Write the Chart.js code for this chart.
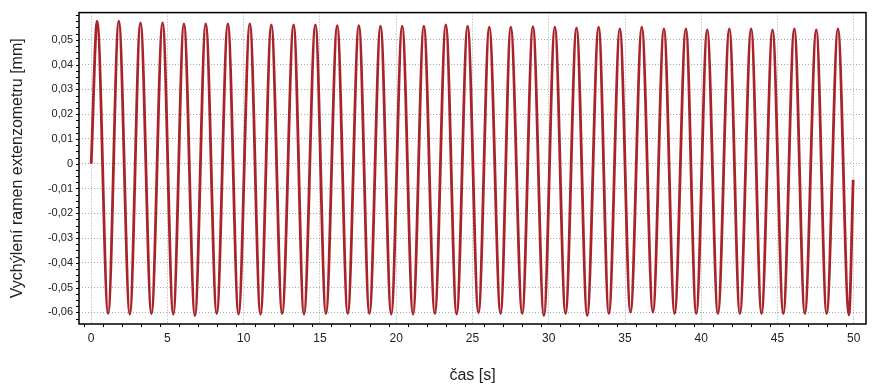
<!DOCTYPE html>
<html>
<head>
<meta charset="utf-8">
<script src="https://cdn.jsdelivr.net/npm/chart.js@4/dist/chart.umd.min.js"></script>
<style>
  html, body { margin: 0; padding: 0; background: #fff; }
  #wrap { width: 878px; height: 392px; }
</style>
</head>
<body>
<div id="wrap"><canvas id="chart" width="878" height="392"></canvas></div>
<script>
// Signal: one peak and one trough per cycle
const startTime = 0, startValue = 0;
const endTime = 49.96, endValue = -0.0065;

const peakTimes = [0.39, 1.81, 3.23, 4.68, 6.08, 7.51, 8.96, 10.40, 11.81, 13.27,
  14.70, 16.13, 17.55, 18.97, 20.39, 21.81, 23.25, 24.68, 26.10, 27.51,
  28.96, 30.40, 31.82, 33.27, 34.66, 36.10, 37.55, 38.99, 40.39, 41.84,
  43.27, 44.67, 46.10, 47.54, 48.96];
const peakValues = [0.0575, 0.0575, 0.0568, 0.0568, 0.0564, 0.0564, 0.0564, 0.0564, 0.0560, 0.0560,
  0.0560, 0.0557, 0.0557, 0.0555, 0.0555, 0.0555, 0.0560, 0.0555, 0.0551, 0.0551,
  0.0553, 0.0551, 0.0548, 0.0551, 0.0544, 0.0551, 0.0544, 0.0544, 0.0540, 0.0544,
  0.0544, 0.0540, 0.0544, 0.0540, 0.0544];

const troughTimes = [1.11, 2.53, 3.95, 5.38, 6.80, 8.23, 9.66, 11.10, 12.52, 13.95,
  15.39, 16.82, 18.24, 19.67, 21.10, 22.53, 23.96, 25.39, 26.84, 28.26,
  29.68, 31.10, 32.52, 33.94, 35.36, 36.83, 38.25, 39.67, 41.09, 42.53,
  43.95, 45.38, 46.79, 48.22, 49.68];
const troughValues = [-0.0605, -0.0607, -0.0605, -0.0607, -0.0613, -0.0605, -0.0607, -0.0607, -0.0605, -0.0607,
  -0.0605, -0.0605, -0.0605, -0.0607, -0.0607, -0.0605, -0.0607, -0.0602, -0.0605, -0.0605,
  -0.0613, -0.0605, -0.0613, -0.0605, -0.0599, -0.0599, -0.0605, -0.0605, -0.0605, -0.0605,
  -0.0605, -0.0605, -0.0605, -0.0605, -0.0610];

// Axis ticks
const xTicks = [0, 5, 10, 15, 20, 25, 30, 35, 40, 45, 50];
const xTickLabels = ['0', '5', '10', '15', '20', '25', '30', '35', '40', '45', '50'];
const yTicks = [-0.06, -0.05, -0.04, -0.03, -0.02, -0.01, 0, 0.01, 0.02, 0.03, 0.04, 0.05];
const yTickLabels = ['-0,06', '-0,05', '-0,04', '-0,03', '-0,02', '-0,01', '0', '0,01', '0,02', '0,03', '0,04', '0,05'];

const points = [{ x: startTime, y: startValue }];
peakTimes.forEach((t, i) => {
  points.push({ x: t, y: peakValues[i] });
  points.push({ x: troughTimes[i], y: troughValues[i] });
});
points.push({ x: endTime, y: endValue });

const FONT = "'Liberation Sans', Arial, sans-serif";

// frame box + small minor tick marks
const framePlugin = {
  id: 'frame',
  afterDraw(chart) {
    const { ctx, chartArea: a, scales } = chart;
    ctx.save();
    ctx.strokeStyle = '#000';
    ctx.lineWidth = 1;
    ctx.beginPath();
    for (let v = -0.5; v <= 50.5; v += 1.25) {
      if (Math.abs(v % 5) < 1e-9) continue;
      const px = Math.round(scales.x.getPixelForValue(v)) + 0.5;
      if (px < a.left || px > a.right) continue;
      ctx.moveTo(px, a.bottom);
      ctx.lineTo(px, a.bottom + 3);
    }
    for (let v = -0.0625; v <= 0.061; v += 0.0025) {
      const py = Math.round(scales.y.getPixelForValue(v)) + 0.5;
      if (py < a.top || py > a.bottom) continue;
      ctx.moveTo(a.left - 3, py);
      ctx.lineTo(a.left, py);
    }
    ctx.stroke();
    ctx.lineWidth = 1.5;
    ctx.strokeRect(a.left, a.top, a.right - a.left, a.bottom - a.top);
    ctx.restore();
  }
};

new Chart(document.getElementById('chart'), {
  type: 'line',
  data: {
    datasets: [{
      data: points,
      borderColor: '#a8232a',
      borderWidth: 2.8,
      pointRadius: 0,
      fill: false,
      cubicInterpolationMode: 'monotone'
    }]
  },
  options: {
    responsive: false,
    animation: false,
    layout: { padding: { left: 0, top: 12, right: 12, bottom: 0 } },
    plugins: { legend: { display: false }, tooltip: { enabled: false } },
    scales: {
      x: {
        type: 'linear',
        min: -0.8,
        max: 50.8,
        afterBuildTicks: s => { s.ticks = xTicks.map(v => ({ value: v })); },
        afterFit: s => { s.height = 68; },
        ticks: {
          autoSkip: false,
          maxRotation: 0,
          padding: 7,
          color: '#222',
          font: { family: FONT, size: 12 },
          callback: (v, i) => xTickLabels[i]
        },
        grid: { color: '#a8a8a8', drawTicks: false },
        border: { display: false, dash: [1, 2] },
        title: {
          display: true,
          text: 'čas [s]',
          color: '#222',
          font: { family: FONT, size: 16 },
          padding: { top: 0, bottom: 7 }
        }
      },
      y: {
        min: -0.0647,
        max: 0.061,
        afterBuildTicks: s => { s.ticks = yTicks.map(v => ({ value: v })); },
        afterFit: s => { s.width = 79; },
        ticks: {
          autoSkip: false,
          padding: 6,
          color: '#222',
          font: { family: FONT, size: 11 },
          callback: (v, i) => yTickLabels[i]
        },
        grid: { color: '#a8a8a8', drawTicks: false },
        border: { display: false, dash: [1, 2] },
        title: {
          display: true,
          text: 'Vychýlení ramen extenzometru [mm]',
          color: '#222',
          font: { family: FONT, size: 16 },
          padding: { top: 8, bottom: 0 }
        }
      }
    }
  },
  plugins: [framePlugin]
});
</script>
</body>
</html>
